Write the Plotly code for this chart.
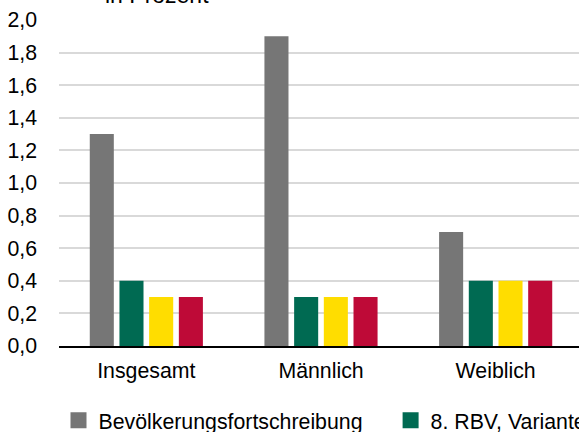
import plotly.graph_objects as go

categories = ["Insgesamt", "Männlich", "Weiblich"]
series_names = ["Bevölkerungsfortschreibung", "8. RBV, Variante 1", "8. RBV, Variante 2", "8. RBV, Variante 3"]
fortschreibung = [1.3, 1.9, 0.7]
variante1 = [0.4, 0.3, 0.4]
variante2 = [0.3, 0.3, 0.4]
variante3 = [0.3, 0.3, 0.4]
y_ticks = [0.0, 0.2, 0.4, 0.6, 0.8, 1.0, 1.2, 1.4, 1.6, 1.8, 2.0]
y_ticklabels = ["0,0", "0,2", "0,4", "0,6", "0,8", "1,0", "1,2", "1,4", "1,6", "1,8", "2,0"]
title_text = "in Prozent"

colors = ["#767676", "#006A52", "#FFDD00", "#BE0A37"]
values = [fortschreibung, variante1, variante2, variante3]
legend_ids = ["legend", "legend2", "legend3", "legend3"]

FONT = "Liberation Sans, Arial, sans-serif"
FS = 21.3

fig = go.Figure()
for name, vals, col in zip(series_names, values, colors):
    fig.add_trace(go.Bar(x=categories, y=vals, name=name, marker_color=col,
                         marker_line_width=0, showlegend=False))
# legend entries with square markers
for name, col, lg in zip(series_names, colors, legend_ids):
    fig.add_trace(go.Scatter(x=[None], y=[None], mode="markers", name=name,
                             marker=dict(symbol="square", size=17, color=col),
                             legend=lg, showlegend=True))

legend_common = dict(orientation="h", xref="container", yref="container",
                     xanchor="left", yanchor="middle", bgcolor="rgba(0,0,0,0)",
                     font=dict(family=FONT, size=FS, color="#000"),
                     itemsizing="trace")

fig.update_layout(
    width=600, height=480,
    margin=dict(l=59, r=17, t=20, b=134, autoexpand=False),
    paper_bgcolor="white", plot_bgcolor="white",
    barmode="group", bargap=0.32, bargroupgap=0.19,
    font=dict(family=FONT, size=FS, color="#000"),
    xaxis=dict(showgrid=False, showline=True, linecolor="#000", linewidth=2,
               ticks="", tickfont=dict(size=FS), ticklabelstandoff=4),
    yaxis=dict(range=[0, 2.0], tickvals=y_ticks, ticktext=y_ticklabels,
               showgrid=True, gridcolor="#D9D9D9", gridwidth=2,
               zeroline=False, showline=False, ticks="",
               tickfont=dict(size=FS), ticklabelstandoff=21),
    legend=dict(**legend_common, x=0.0975, y=0.124),
    legend2=dict(**legend_common, x=0.651, y=0.124),
    legend3=dict(**legend_common, x=0.0975, y=0.04),
    annotations=[dict(text=title_text, xref="paper", yref="paper", x=0, y=1,
                      xshift=44, yshift=10, xanchor="left", yanchor="bottom",
                      showarrow=False, font=dict(family=FONT, size=23, color="#000"))],
)

fig.write_html("out.html", config={"displayModeBar": False},
               post_script="document.body.style.margin='0';")
